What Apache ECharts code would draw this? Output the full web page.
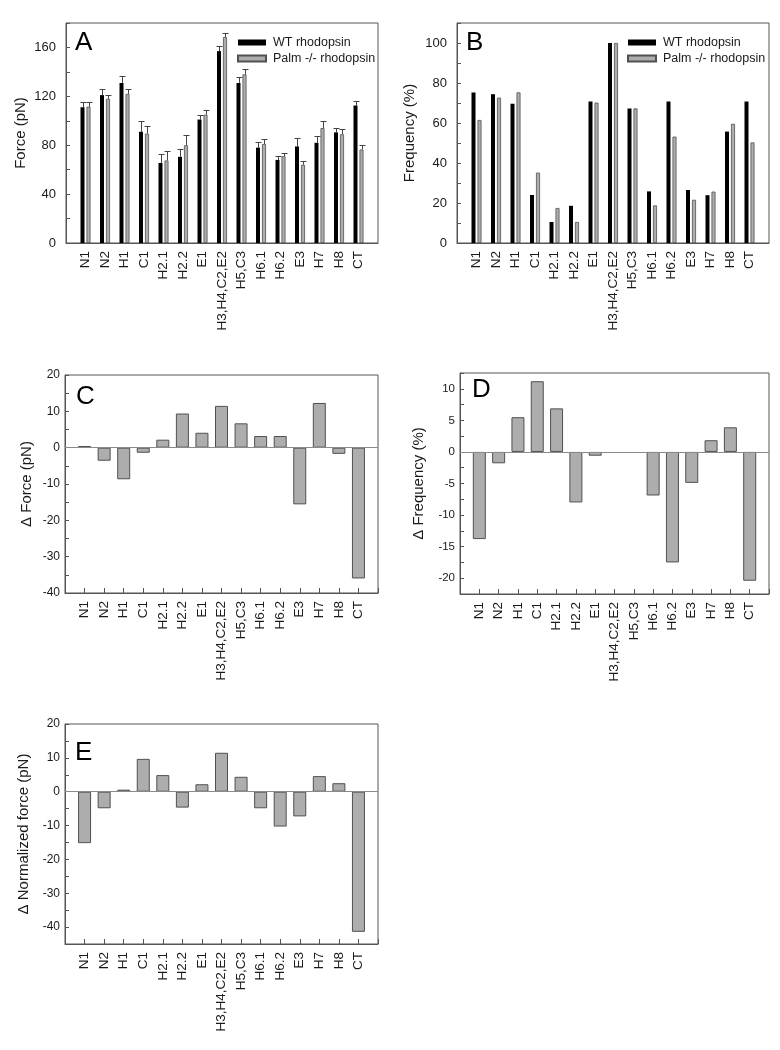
<!DOCTYPE html>
<html>
<head>
<meta charset="utf-8">
<script src="https://cdn.jsdelivr.net/npm/echarts@6/dist/echarts.min.js"></script>
<style>
html,body{margin:0;padding:0;background:#fff;}
#chart{width:780px;height:1050px;}
</style>
</head>
<body>
<div id="chart"></div>
<script>
const categories = ['N1','N2','H1','C1','H2.1','H2.2','E1','H3,H4,C2,E2','H5,C3','H6.1','H6.2','E3','H7','H8','CT'];

// Panel A: force (pN)
const forceWT      = [111, 121, 131, 91, 65.5, 70.5, 101, 157, 131, 78, 68, 79, 82, 90.5, 112.5];
const forceWTErr   = [4, 5, 6, 9, 7.5, 6.5, 4, 4, 4.5, 5, 3, 7, 5.5, 4, 4];
const forcePalm    = [111.5, 118, 122, 89.5, 67.5, 80, 105, 168.5, 138, 81, 71, 64, 94, 89, 76.5];
const forcePalmErr = [4, 3.5, 4, 6, 7.5, 8, 3.5, 3.5, 4.5, 4, 3, 3, 5.5, 4.5, 3.5];

// Panel B: frequency (%)
const freqWT   = [75.3, 74.4, 69.6, 24, 10.5, 18.6, 70.7, 100, 67.3, 25.8, 70.7, 26.5, 23.9, 55.7, 70.7];
const freqPalm = [61.5, 72.7, 75.3, 35.2, 17.5, 10.5, 70.2, 100, 67.3, 18.8, 53.2, 21.6, 25.7, 59.6, 50.3];

// Panel C: delta force (pN)
const deltaForce = [0.45, -3.6, -8.7, -1.4, 2.2, 9.4, 4.1, 11.5, 6.7, 3.2, 3.2, -15.6, 12.3, -1.7, -36];

// Panel D: delta frequency (%)
const deltaFreq = [-13.8, -1.8, 5.5, 11.2, 6.9, -8.0, -0.6, 0, 0, -6.9, -17.5, -4.9, 1.85, 3.9, -20.4];

// Panel E: delta normalized force (pN)
const deltaNormForce = [-15.2, -4.9, 0.6, 9.7, 4.9, -4.7, 2.2, 11.5, 4.4, -4.9, -10.3, -7.3, 4.6, 2.5, -41.4];

const FONT = 'Liberation Sans, Arial, sans-serif';
const TXT = '#1a1a1a';
const AXIS = '#555';
const GRAY = '#adadad';
const GRAY_BORDER = '#505050';

const axisCats = [''].concat(categories, ['']);
// zero-valued bars are not drawn in the reference
const pad = arr => [null].concat(arr.map(v => (v === 0 ? null : v)), [null]);

const grids = [
  {left: 66,  top: 23,  width: 312, height: 220},
  {left: 457, top: 23,  width: 312, height: 220},
  {left: 65,  top: 375, width: 313, height: 218},
  {left: 460, top: 373, width: 309, height: 221},
  {left: 65,  top: 724, width: 313, height: 220}
].map(g => Object.assign({show: true, borderColor: AXIS, borderWidth: 1, backgroundColor: 'transparent'}, g));

function xAxisFor(i, showTicks) {
  return {
    type: 'category', gridIndex: i, data: axisCats, boundaryGap: false,
    axisLine: {show: true, onZero: false, lineStyle: {color: AXIS, width: 1}},
    axisTick: {show: showTicks, inside: true, length: 5, interval: 0, lineStyle: {color: AXIS}},
    axisLabel: {rotate: 90, interval: 0, fontSize: 13.5, color: TXT, fontFamily: FONT, margin: 8},
    splitLine: {show: false}
  };
}

function yAxisFor(i, min, max, step, labelStep, name, nameGap, fontSize, margin) {
  return {
    type: 'value', gridIndex: i, min: min, max: max, interval: step,
    name: name, nameLocation: 'middle', nameGap: nameGap, nameRotate: 90,
    nameTextStyle: {fontSize: 15, color: TXT, fontFamily: FONT},
    axisLine: {show: true, lineStyle: {color: AXIS, width: 1}},
    axisTick: {show: true, inside: true, length: 4, lineStyle: {color: AXIS}},
    axisLabel: {
      fontSize: fontSize, color: TXT, fontFamily: FONT, margin: margin,
      showMinLabel: true, showMaxLabel: true,
      formatter: v => (Math.abs(v / labelStep - Math.round(v / labelStep)) < 1e-6 ? String(Math.round(v * 10) / 10) : '')
    },
    splitLine: {show: false}
  };
}

function errorSeries(gridIdx, vals, errs, offset) {
  const data = vals.map((v, k) => [k + 1, v, errs[k]]);
  return {
    type: 'custom', xAxisIndex: gridIdx, yAxisIndex: gridIdx, z: 1, silent: true,
    renderItem: (params, api) => {
      const x = api.value(0), y = api.value(1), e = api.value(2);
      const p0 = api.coord([x, y]);
      const p1 = api.coord([x, y + e]);
      const cx = Math.round(p0[0] + offset) + 0.5;
      const ty = Math.round(p1[1]) + 0.5;
      return {type: 'group', children: [
        {type: 'line', shape: {x1: cx, y1: p0[1], x2: cx, y2: ty}, style: {stroke: '#444', lineWidth: 1}},
        {type: 'line', shape: {x1: cx - 3, y1: ty, x2: cx + 3, y2: ty}, style: {stroke: '#444', lineWidth: 1}}
      ]};
    },
    encode: {x: 0, y: 1},
    data: data
  };
}

function zeroLine() {
  return {silent: true, symbol: ['none', 'none'], symbolSize: 0, label: {show: false},
    emphasis: {disabled: true},
    lineStyle: {color: '#8a8a8a', type: 'solid', width: 1},
    data: [[{xAxis: 0, yAxis: 0}, {xAxis: axisCats.length - 1, yAxis: 0}]]};
}

function singleBars(gridIdx, vals) {
  return {
    type: 'bar', name: 'delta' + gridIdx, xAxisIndex: gridIdx, yAxisIndex: gridIdx,
    data: pad(vals), barWidth: 13,
    itemStyle: {color: GRAY, borderColor: GRAY_BORDER, borderWidth: 1},
    markLine: zeroLine(), silent: true
  };
}

const WT = 'WT rhodopsin', PALM = 'Palm -/- rhodopsin';

const series = [
  {type: 'bar', name: WT, xAxisIndex: 0, yAxisIndex: 0, data: pad(forceWT), barWidth: 4, barGap: '50%',
   itemStyle: {color: '#000'}, z: 2, silent: true},
  {type: 'bar', name: PALM, xAxisIndex: 0, yAxisIndex: 0, data: pad(forcePalm), barWidth: 4, barGap: '50%',
   itemStyle: {color: GRAY, borderColor: GRAY_BORDER, borderWidth: 0.8}, z: 2, silent: true},
  errorSeries(0, forceWT, forceWTErr, -3),
  errorSeries(0, forcePalm, forcePalmErr, 3),
  {type: 'bar', name: WT, xAxisIndex: 1, yAxisIndex: 1, data: pad(freqWT), barWidth: 4, barGap: '50%',
   itemStyle: {color: '#000'}, silent: true},
  {type: 'bar', name: PALM, xAxisIndex: 1, yAxisIndex: 1, data: pad(freqPalm), barWidth: 4, barGap: '50%',
   itemStyle: {color: GRAY, borderColor: GRAY_BORDER, borderWidth: 0.8}, silent: true},
  singleBars(2, deltaForce),
  singleBars(3, deltaFreq),
  singleBars(4, deltaNormForce)
];

const letterStyle = {fontSize: 26, fontWeight: 'normal', color: '#000', fontFamily: FONT};
const titles = [
  {text: 'A', left: 75, top: 30},
  {text: 'B', left: 466, top: 30},
  {text: 'C', left: 76, top: 384},
  {text: 'D', left: 472, top: 377},
  {text: 'E', left: 75, top: 740}
].map(t => Object.assign({textStyle: letterStyle, padding: 0}, t));

function legendAt(left, top) {
  return {
    data: [WT, PALM], orient: 'vertical', left: left, top: top,
    itemWidth: 28, itemHeight: 6, itemGap: 3, icon: 'rect', padding: 0,
    textStyle: {fontSize: 12.5, color: TXT, fontFamily: FONT, padding: [0, 0, 0, 2]},
    selectedMode: false
  };
}

const option = {
  animation: false,
  backgroundColor: '#fff',
  title: titles,
  legend: [legendAt(237, 36), legendAt(627, 36)],
  grid: grids,
  xAxis: [xAxisFor(0, false), xAxisFor(1, false), xAxisFor(2, true), xAxisFor(3, true), xAxisFor(4, true)],
  yAxis: [
    yAxisFor(0, 0, 180, 20, 40, 'Force (pN)', 38, 13, 10),
    yAxisFor(1, 0, 110, 10, 20, 'Frequency (%)', 40, 13, 10),
    yAxisFor(2, -40, 20, 5, 10, '\u0394 Force (pN)', 31, 12, 5),
    yAxisFor(3, -22.5, 12.5, 2.5, 5, '\u0394 Frequency (%)', 34, 11.5, 5),
    yAxisFor(4, -45, 20, 5, 10, '\u0394 Normalized force (pN)', 34, 12, 5)
  ],
  series: series
};

const chart = echarts.init(document.getElementById('chart'), null, {renderer: 'canvas'});
chart.setOption(option);
</script>
</body>
</html>
